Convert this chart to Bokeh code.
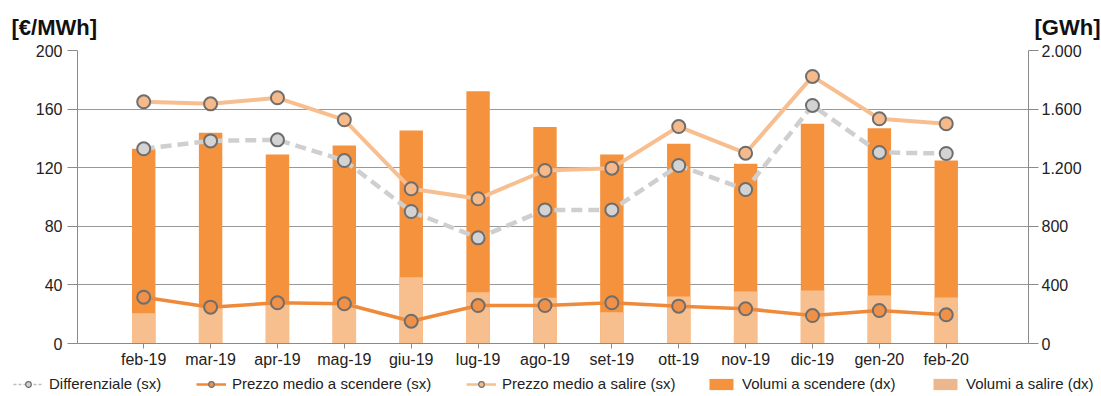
from bokeh.plotting import figure
from bokeh.layouts import column
from bokeh.models import (Range1d, LinearAxis, FixedTicker, Legend, LegendItem)
from bokeh.core.properties import value
from bokeh.embed import file_html
from bokeh.resources import INLINE

months = ["feb-19", "mar-19", "apr-19", "mag-19", "giu-19", "lug-19", "ago-19",
          "set-19", "ott-19", "nov-19", "dic-19", "gen-20", "feb-20"]
vol_scendere = [1329, 1438, 1290, 1352, 1454, 1722, 1477, 1290, 1363, 1227, 1500, 1470, 1249]
vol_salire = [207, 250, 270, 270, 453, 350, 312, 214, 321, 355, 362, 328, 314]
prezzo_salire = [165, 163.6, 167.7, 152.7, 105.6, 98.8, 118.1, 119.7, 148.1, 129.9, 182.3, 153.4, 150]
differenziale = [132.9, 138.3, 139, 124.9, 90.1, 72.1, 91.2, 91.2, 121.5, 105.1, 162.5, 130.4, 129.7]
prezzo_scendere = [31.6, 24.8, 27.8, 27.1, 15.2, 25.9, 25.9, 27.8, 25.5, 23.7, 19.1, 22.5, 19.6]
left_ticks = [0, 40, 80, 120, 160, 200]
right_ticks = [0, 400, 800, 1200, 1600, 2000]
right_labels = ["0", "400", "800", "1.200", "1.600", "2.000"]
unit_titles = ["[€/MWh]", "[GWh]"]
series_names = ["Differenziale (sx)", "Prezzo medio a scendere (sx)", "Prezzo medio a salire (sx)",
                "Volumi a scendere (dx)", "Volumi a salire (dx)"]

xs = list(range(len(months)))
FONT = "Liberation Sans"
AXC = "#8a8a8a"
TXT = "#222222"
DARK = "#F5923E"
LIGHT = "#F8BF8E"
C_DIFF = "#CFCFCF"
C_SC = "#EF8A3B"
C_SA = "#F7BE8F"
OUT = "#6e6e6e"
F_DIFF = "#D3D3D3"
F_SC = "#F0914A"
F_SA = "#F6B98A"
TICK_FS = "16px"

W = 1101


def bare(h):
    f = figure(width=W, height=h, output_backend="svg", toolbar_location=None,
               x_range=Range1d(0, W), y_range=Range1d(0, h),
               min_border=0, min_border_left=0, min_border_right=0,
               min_border_top=0, min_border_bottom=0, frame_align=False)
    f.axis.visible = False
    f.grid.visible = False
    f.outline_line_color = None
    return f


# ---------- header with unit titles ----------
head = bare(40)
head.text(x=[11], y=[13], text=unit_titles[:1], text_font=value(FONT),
          text_font_size="22px", text_font_style="bold", text_color="#111111",
          text_baseline="middle", text_align="left")
head.text(x=[1100], y=[13], text=unit_titles[1:], text_font=value(FONT),
          text_font_size="22px", text_font_style="bold", text_color="#111111",
          text_baseline="middle", text_align="right")

# ---------- main chart ----------
p = figure(width=W, height=332, output_backend="svg", toolbar_location=None,
           x_range=Range1d(-0.99, 13.23), y_range=Range1d(0, 200),
           min_border_left=77, min_border_right=73, min_border_top=10, min_border_bottom=29,
           frame_align=False)
p.outline_line_color = None
p.extra_y_ranges = {"vol": Range1d(0, 2000)}

p.xgrid.visible = False
p.ygrid.grid_line_color = "#999999"
p.ygrid.grid_line_width = 1
p.ygrid.ticker = FixedTicker(ticks=left_ticks)


def style_axis(ax, tick_out, standoff):
    ax.axis_line_color = AXC
    ax.major_tick_line_color = AXC
    ax.major_tick_out = tick_out
    ax.major_tick_in = 0
    ax.minor_tick_line_color = None
    ax.major_label_standoff = standoff
    ax.major_label_text_font = FONT
    ax.major_label_text_font_size = TICK_FS
    ax.major_label_text_color = TXT


xa = p.xaxis[0]
xa.ticker = FixedTicker(ticks=xs)
xa.major_label_overrides = {i: m for i, m in enumerate(months)}
style_axis(xa, 5, 2)

ya = p.yaxis[0]
ya.ticker = FixedTicker(ticks=left_ticks)
style_axis(ya, 10, 5)

ra = LinearAxis(y_range_name="vol", ticker=FixedTicker(ticks=right_ticks))
ra.major_label_overrides = {t: l for t, l in zip(right_ticks, right_labels)}
style_axis(ra, 10, 3)
p.add_layout(ra, "right")

p.vbar(x=xs, top=vol_scendere, width=0.35, y_range_name="vol", fill_color=DARK, line_color=None)
p.vbar(x=xs, top=vol_salire, width=0.35, y_range_name="vol", fill_color=LIGHT, line_color=None)

p.line(xs, differenziale, line_color=C_DIFF, line_width=4.5, line_dash="11 6")
p.scatter(xs, differenziale, size=13, fill_color=F_DIFF, line_color=OUT, line_width=2)
p.line(xs, prezzo_scendere, line_color=C_SC, line_width=3.5)
p.scatter(xs, prezzo_scendere, size=13, fill_color=F_SC, line_color=OUT, line_width=2)
p.line(xs, prezzo_salire, line_color=C_SA, line_width=4)
p.scatter(xs, prezzo_salire, size=13, fill_color=F_SA, line_color=OUT, line_width=2)

# ---------- footer with legend ----------
foot = bare(24)
nan = [float("nan")]
g_l1 = foot.line(nan, nan, line_color="#BDBDBD", line_width=1.5, line_dash="3 2")
g_m1 = foot.scatter(nan, nan, size=9, fill_color=F_DIFF, line_color=OUT, line_width=1.2)
g_l2 = foot.line(nan, nan, line_color=C_SC, line_width=2.5)
g_m2 = foot.scatter(nan, nan, size=9, fill_color=F_SC, line_color=OUT, line_width=1.2)
g_l3 = foot.line(nan, nan, line_color=C_SA, line_width=2.5)
g_m3 = foot.scatter(nan, nan, size=9, fill_color=F_SA, line_color=OUT, line_width=1.2)
g_b1 = foot.vbar(x=nan, top=nan, width=0.1, fill_color=DARK, line_color=None)
g_b2 = foot.vbar(x=nan, top=nan, width=0.1, fill_color="#EDB78E", line_color=None)

legend_renderers = [[g_l1, g_m1], [g_l2, g_m2], [g_l3, g_m3], [g_b1], [g_b2]]
legend_x = [13, 196, 466, 706, 930]
for name, rends, lx in zip(series_names, legend_renderers, legend_x):
    lg = Legend(items=[LegendItem(label=name, renderers=rends, index=0)],
                orientation="horizontal", location=(lx, 4))
    lg.border_line_color = None
    lg.background_fill_alpha = 0
    lg.padding = 0
    lg.margin = 0
    lg.glyph_width = 30
    lg.glyph_height = 14
    lg.label_standoff = 6
    lg.label_text_font = FONT
    lg.label_text_font_size = "15px"
    lg.label_text_color = TXT
    foot.add_layout(lg, "center")

layout = column(head, p, foot, spacing=0)
open("out.html", "w").write(file_html(layout, INLINE))
